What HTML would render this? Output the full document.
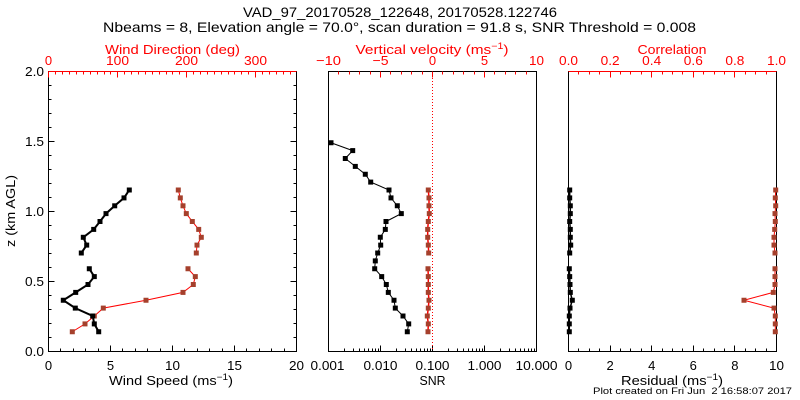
<!DOCTYPE html>
<html><head><meta charset="utf-8"><style>
html,body{margin:0;padding:0;background:#fff;}
svg{display:block;}
text{font-family:"Liberation Sans",sans-serif;}
</style></head><body>
<svg width="800" height="400" viewBox="0 0 800 400" xmlns="http://www.w3.org/2000/svg">
<rect width="800" height="400" fill="#fff"/>
<!-- Titles -->
<text x="400" y="17" font-size="14" text-anchor="middle" textLength="314" lengthAdjust="spacingAndGlyphs">VAD_97_20170528_122648, 20170528.122746</text>
<text x="399.5" y="32" font-size="14" text-anchor="middle" textLength="593" lengthAdjust="spacingAndGlyphs">Nbeams = 8, Elevation angle = 70.0°, scan duration = 91.8 s, SNR Threshold = 0.008</text>

<g shape-rendering="crispEdges" fill="none" stroke-width="1">
<!-- Left panel box -->
<rect x="48.5" y="71.5" width="248" height="280" stroke="#000"/>
<line x1="48.5" y1="71.5" x2="296.5" y2="71.5" stroke="#f00"/>
<!-- left bottom ticks -->
<path stroke="#000" d="M60.5 351.5V348.5M73.5 351.5V348.5M85.5 351.5V348.5M98.5 351.5V348.5M110.5 351.5V345.5M122.5 351.5V348.5M135.5 351.5V348.5M147.5 351.5V348.5M160.5 351.5V348.5M172.5 351.5V345.5M184.5 351.5V348.5M197.5 351.5V348.5M209.5 351.5V348.5M222.5 351.5V348.5M234.5 351.5V345.5M246.5 351.5V348.5M259.5 351.5V348.5M271.5 351.5V348.5M284.5 351.5V348.5"/>
<!-- left top ticks red -->
<path stroke="#f00" d="M48.5 71.5V77.5M55.5 71.5V74.5M62.5 71.5V74.5M69.5 71.5V74.5M76.5 71.5V74.5M83.5 71.5V74.5M90.5 71.5V74.5M97.5 71.5V74.5M104.5 71.5V74.5M110.5 71.5V74.5M117.5 71.5V77.5M124.5 71.5V74.5M131.5 71.5V74.5M138.5 71.5V74.5M145.5 71.5V74.5M152.5 71.5V74.5M159.5 71.5V74.5M166.5 71.5V74.5M172.5 71.5V74.5M179.5 71.5V74.5M186.5 71.5V77.5M193.5 71.5V74.5M200.5 71.5V74.5M207.5 71.5V74.5M214.5 71.5V74.5M221.5 71.5V74.5M228.5 71.5V74.5M234.5 71.5V74.5M241.5 71.5V74.5M248.5 71.5V74.5M255.5 71.5V77.5M262.5 71.5V74.5M269.5 71.5V74.5M276.5 71.5V74.5M283.5 71.5V74.5M290.5 71.5V74.5"/>
<!-- left y ticks -->
<path stroke="#000" d="M48.5 337.5H51.5M48.5 323.5H51.5M48.5 309.5H51.5M48.5 295.5H51.5M48.5 281.5H54.5M48.5 267.5H51.5M48.5 253.5H51.5M48.5 239.5H51.5M48.5 225.5H51.5M48.5 211.5H54.5M48.5 197.5H51.5M48.5 183.5H51.5M48.5 169.5H51.5M48.5 155.5H51.5M48.5 141.5H54.5M48.5 127.5H51.5M48.5 113.5H51.5M48.5 99.5H51.5M48.5 85.5H51.5
M296.5 337.5H293.5M296.5 323.5H293.5M296.5 309.5H293.5M296.5 295.5H293.5M296.5 281.5H290.5M296.5 267.5H293.5M296.5 253.5H293.5M296.5 239.5H293.5M296.5 225.5H293.5M296.5 211.5H290.5M296.5 197.5H293.5M296.5 183.5H293.5M296.5 169.5H293.5M296.5 155.5H293.5M296.5 141.5H290.5M296.5 127.5H293.5M296.5 113.5H293.5M296.5 99.5H293.5M296.5 85.5H293.5"/>

<!-- Middle panel box -->
<rect x="328.5" y="71.5" width="208" height="280" stroke="#000"/>
<path stroke="#f00" d="M338.5 71.5V74.5M349.5 71.5V74.5M359.5 71.5V74.5M370.5 71.5V74.5M380.5 71.5V77.5M390.5 71.5V74.5M401.5 71.5V74.5M411.5 71.5V74.5M422.5 71.5V74.5M432.5 71.5V77.5M442.5 71.5V74.5M453.5 71.5V74.5M463.5 71.5V74.5M474.5 71.5V74.5M484.5 71.5V77.5M494.5 71.5V74.5M505.5 71.5V74.5M515.5 71.5V74.5M526.5 71.5V74.5"/>
<path stroke="#000" d="M344.5 351.5V348.5M353.5 351.5V348.5M359.5 351.5V348.5M364.5 351.5V348.5M368.5 351.5V348.5M372.5 351.5V348.5M375.5 351.5V348.5M378.5 351.5V348.5M380.5 351.5V345.5M396.5 351.5V348.5M405.5 351.5V348.5M411.5 351.5V348.5M416.5 351.5V348.5M420.5 351.5V348.5M424.5 351.5V348.5M427.5 351.5V348.5M430.5 351.5V348.5M432.5 351.5V345.5M448.5 351.5V348.5M457.5 351.5V348.5M463.5 351.5V348.5M468.5 351.5V348.5M472.5 351.5V348.5M476.5 351.5V348.5M479.5 351.5V348.5M482.5 351.5V348.5M484.5 351.5V345.5M500.5 351.5V348.5M509.5 351.5V348.5M515.5 351.5V348.5M520.5 351.5V348.5M524.5 351.5V348.5M528.5 351.5V348.5M531.5 351.5V348.5M534.5 351.5V348.5"/>
<line x1="432.5" y1="72" x2="432.5" y2="351" stroke="#f00" stroke-dasharray="1 2"/>

<!-- Right panel box -->
<rect x="568.5" y="71.5" width="208" height="280" stroke="#000"/>
<line x1="568.5" y1="71.5" x2="776.5" y2="71.5" stroke="#f00"/>
<path stroke="#f00" d="M578.5 71.5V74.5M589.5 71.5V74.5M599.5 71.5V74.5M610.5 71.5V77.5M620.5 71.5V74.5M630.5 71.5V74.5M641.5 71.5V74.5M651.5 71.5V77.5M662.5 71.5V74.5M672.5 71.5V74.5M682.5 71.5V74.5M693.5 71.5V77.5M703.5 71.5V74.5M714.5 71.5V74.5M724.5 71.5V74.5M734.5 71.5V77.5M745.5 71.5V74.5M755.5 71.5V74.5M766.5 71.5V74.5"/>
<path stroke="#000" d="M578.5 351.5V348.5M589.5 351.5V348.5M599.5 351.5V348.5M610.5 351.5V345.5M620.5 351.5V348.5M630.5 351.5V348.5M641.5 351.5V348.5M651.5 351.5V345.5M662.5 351.5V348.5M672.5 351.5V348.5M682.5 351.5V348.5M693.5 351.5V345.5M703.5 351.5V348.5M714.5 351.5V348.5M724.5 351.5V348.5M734.5 351.5V345.5M745.5 351.5V348.5M755.5 351.5V348.5M766.5 351.5V348.5"/>
</g>

<!-- Top labels (red) -->
<g fill="#f00" font-size="13" text-anchor="middle">
<text x="172.5" y="54" textLength="135" lengthAdjust="spacingAndGlyphs">Wind Direction (deg)</text>
<text x="48.5" y="65">0</text>
<text x="117.5" y="65" textLength="23" lengthAdjust="spacingAndGlyphs">100</text>
<text x="186.5" y="65" textLength="23" lengthAdjust="spacingAndGlyphs">200</text>
<text x="255.5" y="65" textLength="23" lengthAdjust="spacingAndGlyphs">300</text>

<text x="432" y="54" textLength="153" lengthAdjust="spacingAndGlyphs">Vertical velocity (ms<tspan font-size="9" dy="-5">−1</tspan><tspan dy="5">)</tspan></text>
<text x="328.5" y="65" textLength="25" lengthAdjust="spacingAndGlyphs">−10</text>
<text x="380.5" y="65" textLength="16" lengthAdjust="spacingAndGlyphs">−5</text>
<text x="432.5" y="65">0</text>
<text x="484.5" y="65">5</text>
<text x="536.5" y="65" textLength="15" lengthAdjust="spacingAndGlyphs">10</text>

<text x="672" y="54" textLength="69" lengthAdjust="spacingAndGlyphs">Correlation</text>
<text x="568.5" y="65" textLength="19" lengthAdjust="spacingAndGlyphs">0.0</text>
<text x="610.1" y="65" textLength="19" lengthAdjust="spacingAndGlyphs">0.2</text>
<text x="651.7" y="65" textLength="19" lengthAdjust="spacingAndGlyphs">0.4</text>
<text x="693.3" y="65" textLength="19" lengthAdjust="spacingAndGlyphs">0.6</text>
<text x="734.9" y="65" textLength="19" lengthAdjust="spacingAndGlyphs">0.8</text>
<text x="776.5" y="65" textLength="19" lengthAdjust="spacingAndGlyphs">1.0</text>
</g>

<!-- Y labels -->
<g fill="#000" font-size="13" text-anchor="end">
<text x="44" y="356" textLength="19" lengthAdjust="spacingAndGlyphs">0.0</text>
<text x="44" y="286" textLength="19" lengthAdjust="spacingAndGlyphs">0.5</text>
<text x="44" y="216" textLength="19" lengthAdjust="spacingAndGlyphs">1.0</text>
<text x="44" y="146" textLength="19" lengthAdjust="spacingAndGlyphs">1.5</text>
<text x="44" y="76" textLength="19" lengthAdjust="spacingAndGlyphs">2.0</text>
</g>
<text transform="translate(15,211) rotate(-90)" font-size="13" text-anchor="middle" textLength="72" lengthAdjust="spacingAndGlyphs">z (km AGL)</text>

<!-- Bottom labels -->
<g fill="#000" font-size="13" text-anchor="middle">
<text x="48.5" y="370">0</text>
<text x="110.5" y="370">5</text>
<text x="172.5" y="370" textLength="15" lengthAdjust="spacingAndGlyphs">10</text>
<text x="234.5" y="370" textLength="15" lengthAdjust="spacingAndGlyphs">15</text>
<text x="296.5" y="370" textLength="15" lengthAdjust="spacingAndGlyphs">20</text>
<text x="171" y="385" textLength="124" lengthAdjust="spacingAndGlyphs">Wind Speed (ms<tspan font-size="9" dy="-5">−1</tspan><tspan dy="5">)</tspan></text>

<text x="327.5" y="370" textLength="34" lengthAdjust="spacingAndGlyphs">0.001</text>
<text x="380.5" y="370" textLength="34" lengthAdjust="spacingAndGlyphs">0.010</text>
<text x="432.5" y="370" textLength="34" lengthAdjust="spacingAndGlyphs">0.100</text>
<text x="484.5" y="370" textLength="34" lengthAdjust="spacingAndGlyphs">1.000</text>
<text x="536.5" y="370" textLength="42" lengthAdjust="spacingAndGlyphs">10.000</text>
<text x="432.5" y="385" textLength="26" lengthAdjust="spacingAndGlyphs">SNR</text>

<text x="568.5" y="370">0</text>
<text x="610.1" y="370">2</text>
<text x="651.7" y="370">4</text>
<text x="693.3" y="370">6</text>
<text x="734.9" y="370">8</text>
<text x="776.5" y="370" textLength="15" lengthAdjust="spacingAndGlyphs">10</text>
<text x="672" y="385" textLength="102" lengthAdjust="spacingAndGlyphs">Residual (ms<tspan font-size="9" dy="-5">−1</tspan><tspan dy="5">)</tspan></text>
</g>
<text x="593" y="394" font-size="9" textLength="199" lengthAdjust="spacingAndGlyphs" style="white-space:pre">Plot created on Fri Jun  2 16:58:07 2017</text>

<!-- Left panel data -->
<g fill="none">
<polyline stroke="#f00" stroke-width="1" points="178.3,190 180.3,197.9 183,205.8 186.3,213.6 192.3,221.5 198.7,229.4 201.3,237.3 197,245.1 196.3,253"/>
<polyline stroke="#f00" stroke-width="1" points="188,268.75 195.3,276.6 193.3,284.5 183,292.4 146,300.25 103.3,308.1 94.3,316 85,323.9 72.3,331.75"/>
<polyline stroke="#000" stroke-width="2" points="129.3,190 124,197.9 114.7,205.8 106,213.6 100,221.5 93.7,229.4 83.3,237.3 86.7,245.1 81.3,253"/>
<polyline stroke="#000" stroke-width="2" points="89.3,268.75 94.3,276.6 88,284.5 75.7,292.4 63.3,300.25 75.3,308.1 92.7,316 94.3,323.9 98.7,331.75"/>
</g>
<g fill="#a5402c">
<rect x="175.8" y="187.5" width="5" height="5"/><rect x="177.8" y="195.4" width="5" height="5"/><rect x="180.5" y="203.3" width="5" height="5"/><rect x="183.8" y="211.1" width="5" height="5"/><rect x="189.8" y="219" width="5" height="5"/><rect x="196.2" y="226.9" width="5" height="5"/><rect x="198.8" y="234.8" width="5" height="5"/><rect x="194.5" y="242.6" width="5" height="5"/><rect x="193.8" y="250.5" width="5" height="5"/>
<rect x="185.5" y="266.25" width="5" height="5"/><rect x="192.8" y="274.1" width="5" height="5"/><rect x="190.8" y="282" width="5" height="5"/><rect x="180.5" y="289.9" width="5" height="5"/><rect x="143.5" y="297.75" width="5" height="5"/><rect x="100.8" y="305.6" width="5" height="5"/><rect x="91.8" y="313.5" width="5" height="5"/><rect x="82.5" y="321.4" width="5" height="5"/><rect x="69.8" y="329.25" width="5" height="5"/>
</g>
<g fill="#000">
<rect x="126.8" y="187.5" width="5" height="5"/><rect x="121.5" y="195.4" width="5" height="5"/><rect x="112.2" y="203.3" width="5" height="5"/><rect x="103.5" y="211.1" width="5" height="5"/><rect x="97.5" y="219" width="5" height="5"/><rect x="91.2" y="226.9" width="5" height="5"/><rect x="80.8" y="234.8" width="5" height="5"/><rect x="84.2" y="242.6" width="5" height="5"/><rect x="78.8" y="250.5" width="5" height="5"/>
<rect x="86.8" y="266.25" width="5" height="5"/><rect x="91.8" y="274.1" width="5" height="5"/><rect x="85.5" y="282" width="5" height="5"/><rect x="73.2" y="289.9" width="5" height="5"/><rect x="60.8" y="297.75" width="5" height="5"/><rect x="72.8" y="305.6" width="5" height="5"/><rect x="90.2" y="313.5" width="5" height="5"/><rect x="91.8" y="321.4" width="5" height="5"/><rect x="96.2" y="329.25" width="5" height="5"/>
</g>

<!-- Middle panel data -->
<g fill="none" stroke-width="1">
<polyline stroke="#000" points="331,142.75 352.7,150.6 345.3,158.5 355.3,166.4 365.3,174.25 370.7,182.1 389,190 391,197.9 397.3,205.75 401.3,213.6 386,221.5 385.3,229.4 380.3,237.25 380.7,245.1 377.7,253 375.3,260.9 374.7,268.75 381.7,276.6 386.3,284.5 388.3,292.4 394,300.25 395.3,308.1 403,316 408.7,323.9 407.3,331.75"/>
<polyline stroke="#f00" stroke-width="1.5" points="428.3,190 429,197.9 429,205.8 429.3,213.6 428.3,221.5 427.7,229.4 427.7,237.3 428.3,245.1 428.7,253"/>
<polyline stroke="#f00" stroke-width="1.5" points="428,268.75 428.3,276.6 428.3,284.5 428.3,292.4 429,300.25 428.3,308.1 427.3,316 428.3,323.9 428,331.75"/>
</g>
<g fill="#000">
<rect x="328.5" y="140.25" width="5" height="5"/><rect x="350.2" y="148.1" width="5" height="5"/><rect x="342.8" y="156" width="5" height="5"/><rect x="352.8" y="163.9" width="5" height="5"/><rect x="362.8" y="171.75" width="5" height="5"/><rect x="368.2" y="179.6" width="5" height="5"/><rect x="386.5" y="187.5" width="5" height="5"/><rect x="388.5" y="195.4" width="5" height="5"/><rect x="394.8" y="203.25" width="5" height="5"/><rect x="398.8" y="211.1" width="5" height="5"/><rect x="383.5" y="219" width="5" height="5"/><rect x="382.8" y="226.9" width="5" height="5"/><rect x="377.8" y="234.75" width="5" height="5"/><rect x="378.2" y="242.6" width="5" height="5"/><rect x="375.2" y="250.5" width="5" height="5"/><rect x="372.8" y="258.4" width="5" height="5"/><rect x="372.2" y="266.25" width="5" height="5"/><rect x="379.2" y="274.1" width="5" height="5"/><rect x="383.8" y="282" width="5" height="5"/><rect x="385.8" y="289.9" width="5" height="5"/><rect x="391.5" y="297.75" width="5" height="5"/><rect x="392.8" y="305.6" width="5" height="5"/><rect x="400.5" y="313.5" width="5" height="5"/><rect x="406.2" y="321.4" width="5" height="5"/><rect x="404.8" y="329.25" width="5" height="5"/>
</g>
<g fill="#a5402c">
<rect x="425.8" y="187.5" width="5" height="5"/><rect x="426.5" y="195.4" width="5" height="5"/><rect x="426.5" y="203.3" width="5" height="5"/><rect x="426.8" y="211.1" width="5" height="5"/><rect x="425.8" y="219" width="5" height="5"/><rect x="425.2" y="226.9" width="5" height="5"/><rect x="425.2" y="234.8" width="5" height="5"/><rect x="425.8" y="242.6" width="5" height="5"/><rect x="426.2" y="250.5" width="5" height="5"/>
<rect x="425.5" y="266.25" width="5" height="5"/><rect x="425.8" y="274.1" width="5" height="5"/><rect x="425.8" y="282" width="5" height="5"/><rect x="425.8" y="289.9" width="5" height="5"/><rect x="426.5" y="297.75" width="5" height="5"/><rect x="425.8" y="305.6" width="5" height="5"/><rect x="424.8" y="313.5" width="5" height="5"/><rect x="425.8" y="321.4" width="5" height="5"/><rect x="425.5" y="329.25" width="5" height="5"/>
</g>

<!-- Right panel data -->
<g fill="none" stroke-width="1">
<polyline stroke="#000" stroke-width="1.5" points="569.7,190 569.7,197.9 570.3,205.8 570.3,213.6 569.7,221.5 570.3,229.4 570.3,237.3 570.7,245.1 569.7,253"/>
<polyline stroke="#000" stroke-width="1.5" points="569.3,268.75 569.7,276.6 570,284.5 570.3,292.4 572.3,300.25 570,308.1 569.3,316 569.3,323.9 569.3,331.75"/>
<polyline stroke="#f00" points="775.7,190 775.3,197.9 775.7,205.8 775,213.6 775.3,221.5 774.7,229.4 774,237.3 774,245.1 775,253"/>
<polyline stroke="#f00" points="775,268.75 775,276.6 775,284.5 773.3,292.4 744,300.25 774,308.1 775.3,316 775.3,323.9 775.3,331.75"/>
</g>
<g fill="#000">
<rect x="567.2" y="187.5" width="5" height="5"/><rect x="567.2" y="195.4" width="5" height="5"/><rect x="567.8" y="203.3" width="5" height="5"/><rect x="567.8" y="211.1" width="5" height="5"/><rect x="567.2" y="219" width="5" height="5"/><rect x="567.8" y="226.9" width="5" height="5"/><rect x="567.8" y="234.8" width="5" height="5"/><rect x="568.2" y="242.6" width="5" height="5"/><rect x="567.2" y="250.5" width="5" height="5"/>
<rect x="566.8" y="266.25" width="5" height="5"/><rect x="567.2" y="274.1" width="5" height="5"/><rect x="567.5" y="282" width="5" height="5"/><rect x="567.8" y="289.9" width="5" height="5"/><rect x="569.8" y="297.75" width="5" height="5"/><rect x="567.5" y="305.6" width="5" height="5"/><rect x="566.8" y="313.5" width="5" height="5"/><rect x="566.8" y="321.4" width="5" height="5"/><rect x="566.8" y="329.25" width="5" height="5"/>
</g>
<g fill="#a5402c">
<rect x="773.2" y="187.5" width="5" height="5"/><rect x="772.8" y="195.4" width="5" height="5"/><rect x="773.2" y="203.3" width="5" height="5"/><rect x="772.5" y="211.1" width="5" height="5"/><rect x="772.8" y="219" width="5" height="5"/><rect x="772.2" y="226.9" width="5" height="5"/><rect x="771.5" y="234.8" width="5" height="5"/><rect x="771.5" y="242.6" width="5" height="5"/><rect x="772.5" y="250.5" width="5" height="5"/>
<rect x="772.5" y="266.25" width="5" height="5"/><rect x="772.5" y="274.1" width="5" height="5"/><rect x="772.5" y="282" width="5" height="5"/><rect x="770.8" y="289.9" width="5" height="5"/><rect x="741.5" y="297.75" width="5" height="5"/><rect x="771.5" y="305.6" width="5" height="5"/><rect x="772.8" y="313.5" width="5" height="5"/><rect x="772.8" y="321.4" width="5" height="5"/><rect x="772.8" y="329.25" width="5" height="5"/>
</g>
</svg>
</body></html>
